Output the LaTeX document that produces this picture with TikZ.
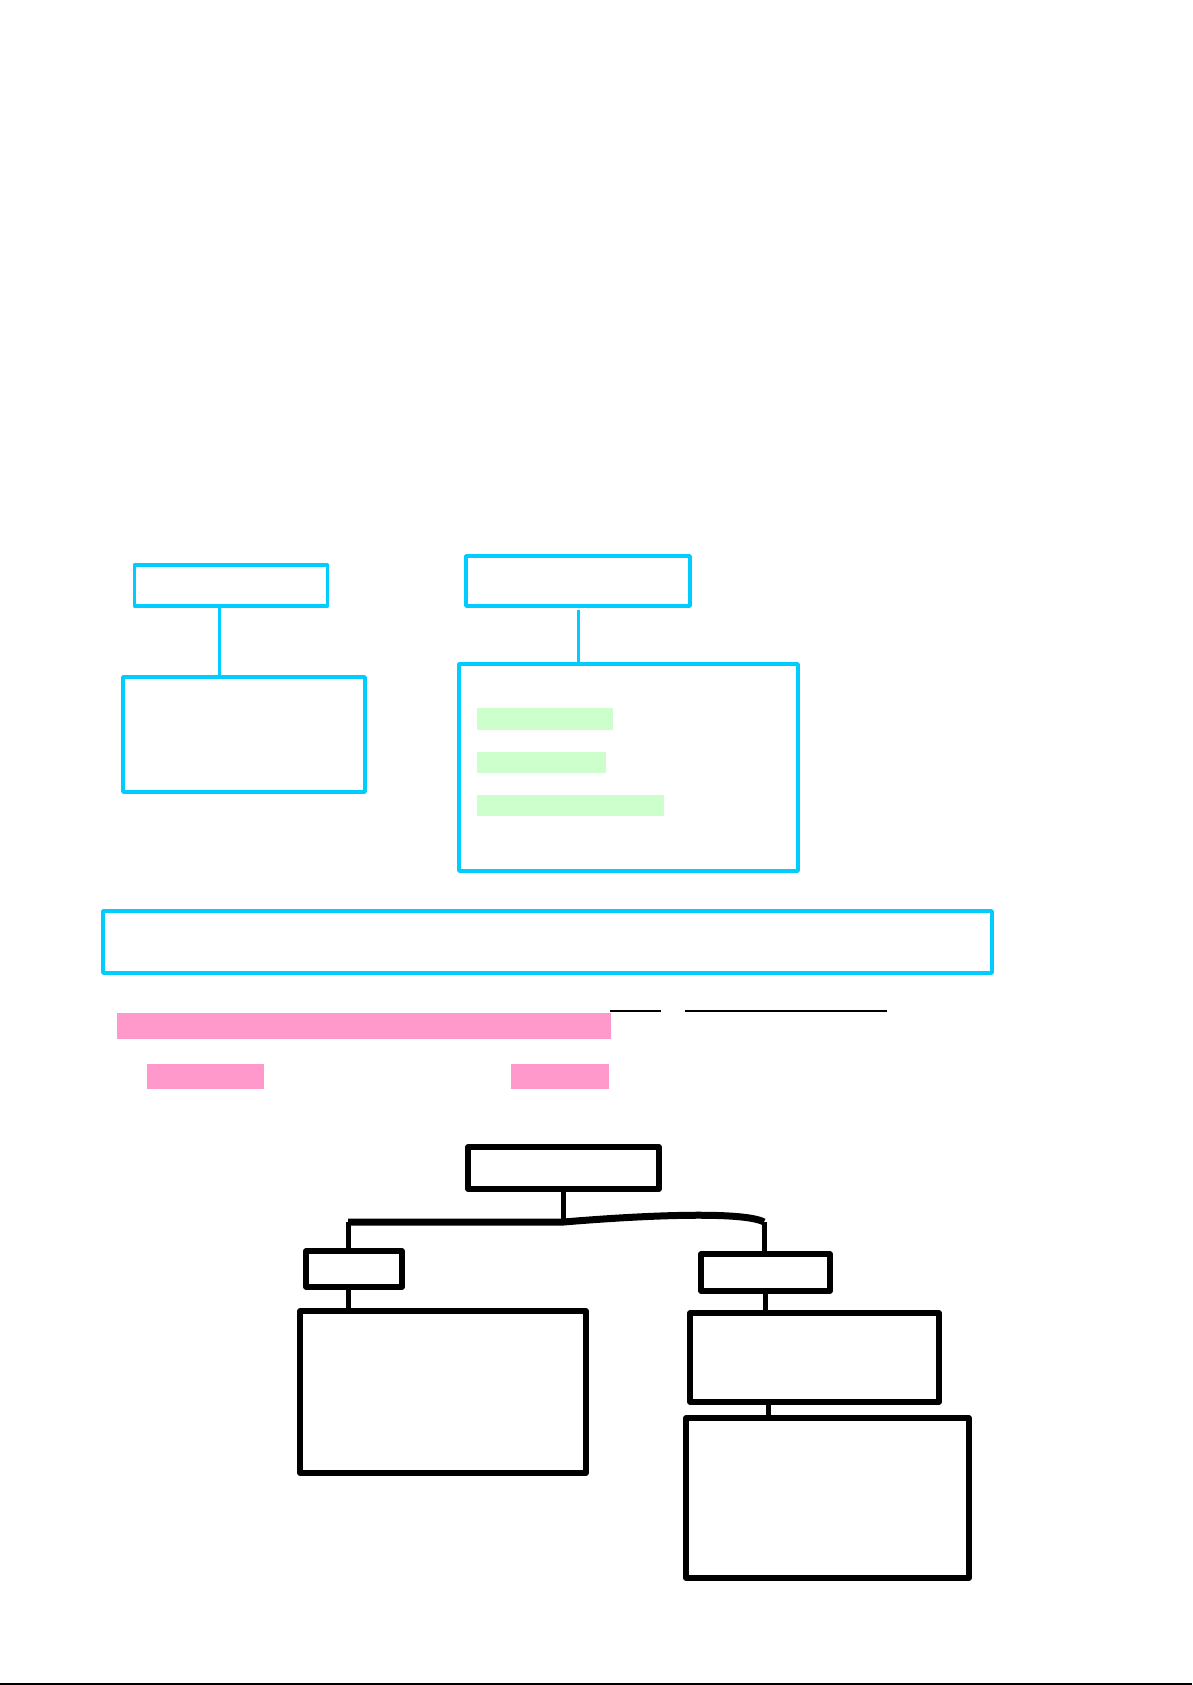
\documentclass[tikz,border=0pt]{standalone}
\usepackage{tikz}
\definecolor{skyline}{RGB}{0,204,255}
\definecolor{mintfill}{RGB}{204,255,204}
\definecolor{rosefill}{RGB}{255,153,204}

\begin{document}
\begin{tikzpicture}[x=1pt, y=-1pt, line join=round,
  cyanbox/.style={draw=skyline, line width=3.5pt, inner sep=0pt, outer sep=0pt},
  blackbox/.style={draw=black, line width=5.5pt, inner sep=0pt, outer sep=0pt},
  greenbar/.style={fill=mintfill, inner sep=0pt, outer sep=0pt},
  pinkbar/.style={fill=rosefill, inner sep=0pt, outer sep=0pt}]
  \useasboundingbox (0,0) rectangle (1192,1685);

  % upper part
  \node[cyanbox, minimum width=193pt, minimum height=41pt] (top-left) at (231,585.5) {};
  \node[cyanbox, minimum width=242pt, minimum height=115pt] (low-left) at (244,734.5) {};
  \node[cyanbox, minimum width=224pt, minimum height=50pt] (top-right) at (578,581) {};
  \node[cyanbox, minimum width=339pt, minimum height=207pt] (low-right) at (628.5,767.5) {};

  \node[greenbar, minimum width=136pt, minimum height=22pt] (mark1) at (545,719) {};
  \node[greenbar, minimum width=129pt, minimum height=21pt] (mark2) at (541.5,762.5) {};
  \node[greenbar, minimum width=187pt, minimum height=21pt] (mark3) at (570.5,805.5) {};

  \coordinate (ab) at (219,0);
  \draw[skyline, line width=3pt] (top-left.south -| ab) -- (low-left.north -| ab);
  \draw[skyline, line width=3pt] ([yshift=-4pt]top-right.south) -- (top-right.south |- low-right.north);

  % banner
  \node[cyanbox, minimum width=889pt, minimum height=62pt] (banner) at (547.5,942) {};

  \draw[line width=1.3pt] (610,1011) -- (661,1011);
  \draw[line width=1.3pt] (685,1011) -- (887,1011);

  \node[pinkbar, minimum width=494pt, minimum height=26pt] (band) at (364,1026) {};
  \node[pinkbar, minimum width=117pt, minimum height=25pt] (chip1) at (205.5,1076.5) {};
  \node[pinkbar, minimum width=98pt, minimum height=25pt] (chip2) at (560,1076.5) {};

  % tree
  \node[blackbox, minimum width=191pt, minimum height=42pt] (root) at (563.5,1168) {};
  \node[blackbox, minimum width=96pt, minimum height=36pt] (left) at (354,1269) {};
  \node[blackbox, minimum width=286pt, minimum height=162pt] (left-body) at (443,1392) {};
  \node[blackbox, minimum width=129pt, minimum height=37pt] (right) at (765.5,1272.5) {};
  \node[blackbox, minimum width=249pt, minimum height=89pt] (right-mid) at (814.5,1357.5) {};
  \node[blackbox, minimum width=283pt, minimum height=160pt] (right-body) at (827.5,1498) {};

  \coordinate (bus-l) at (348,1222);
  \coordinate (bus-r) at (764,1222);
  \coordinate (jk) at (768,0);

  \draw[line width=5pt] (root.south) -- (root.south |- bus-l);
  \draw[line width=7pt] (bus-l) -- (root.south |- bus-l)
    .. controls (660,1214) and (745,1212) .. (bus-r);
  \draw[line width=5pt] (bus-l) -- (bus-l |- left.north);
  \draw[line width=5pt] (bus-r) -- (bus-r |- right.north);
  \draw[line width=5pt] (left.south -| bus-l) -- (left-body.north -| bus-l);
  \draw[line width=5pt] (right.south) -- (right.south |- right-mid.north);
  \draw[line width=5pt] (right-mid.south -| jk) -- (right-body.north -| jk);

  \draw[line width=1.5pt] (0,1684) -- (1192,1684);
\end{tikzpicture}
\end{document}
